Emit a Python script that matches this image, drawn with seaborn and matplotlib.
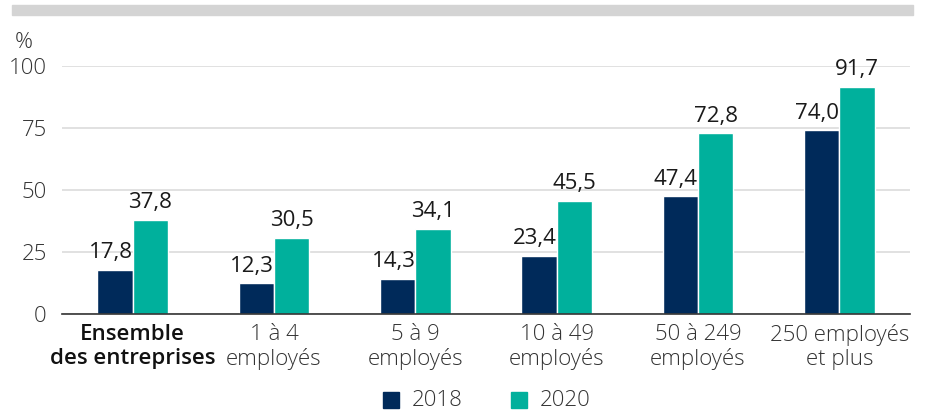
import matplotlib
matplotlib.use("Agg")
import matplotlib.pyplot as plt
import seaborn as sns
import pandas as pd
from matplotlib.patches import Rectangle

categories = ["Ensemble\ndes entreprises", "1 à 4\nemployés", "5 à 9\nemployés",
              "10 à 49\nemployés", "50 à 249\nemployés", "250 employés\net plus"]
v2018 = [17.8, 12.3, 14.3, 23.4, 47.4, 74.0]
v2020 = [37.8, 30.5, 34.1, 45.5, 72.8, 91.7]
years = ["2018", "2020"]
yticks = [0, 25, 50, 75, 100]

sns.set_theme(style="white")
plt.rcParams['font.family'] = ['Open Sans', 'DejaVu Sans']
plt.rcParams['font.weight'] = 300

df = pd.DataFrame({
    "cat": categories * 2,
    "val": v2018 + v2020,
    "year": [years[0]] * len(categories) + [years[1]] * len(categories),
})

colors = {"2018": "#002a5a", "2020": "#00b09c"}
textc = "#333333"
FS = 16

fig = plt.figure(figsize=(9.25, 4.11), dpi=100)
ax = fig.add_axes([62/925, 1-314/411, (910-62)/925, (314-66)/411])

sns.barplot(data=df, x="cat", y="val", hue="year", palette=colors, width=0.5,
            ax=ax, legend=False, saturation=1, zorder=3)

ax.set_ylim(0, 100)
ax.set_xlim(-0.5, len(categories) - 0.5)
ax.set_yticks(yticks)
ax.set_yticklabels([str(t) for t in yticks], fontsize=FS, color=textc)
ax.yaxis.grid(True, color="#dcdcdc", linewidth=1.2, zorder=0)
ax.set_axisbelow(True)
for s in ["top", "right", "left"]:
    ax.spines[s].set_visible(False)
ax.spines["bottom"].set_color("#333333")
ax.spines["bottom"].set_linewidth(1.2)
ax.spines["bottom"].set_zorder(5)
ax.tick_params(axis="y", length=0, pad=11)
ax.set_xlabel("")
ax.set_ylabel("")

# group separator ticks
ax.set_xticks([i - 0.5 for i in range(len(categories) + 1)], minor=True)
ax.tick_params(axis="x", which="minor", length=8, width=1.2, color="#333333", direction="out")
ax.set_xticks(range(len(categories)))
ax.set_xticklabels(categories, fontsize=FS, color=textc, linespacing=1.2)
ax.tick_params(axis="x", which="major", length=0, pad=7)
lbl0 = ax.get_xticklabels()[0]
lbl0.set_fontweight(600)
lbl0.set_color("#111111")

def fmt(v):
    return f"{v:.1f}".replace(".", ",")

# 2018 labels: right-aligned to bar's right edge; 2020 labels: centered
for i, cont in enumerate(ax.containers):
    for rect, v in zip(cont.patches, cont.datavalues):
        if i == 0:
            x = rect.get_x() + rect.get_width()
            ha = "right"
        else:
            x = rect.get_x() + rect.get_width() / 2
            ha = "center"
        ax.annotate(fmt(v), xy=(x, rect.get_height()), xytext=(0, 5),
                    textcoords="offset points", ha=ha, va="bottom",
                    fontsize=FS, fontweight="normal", color="#1a1a1a",
                    annotation_clip=False, zorder=6)

# % label
fig.text(15/925, 1-42/411, "%", fontsize=FS, color=textc, va="center", ha="left")

# top gray bar
fig.patches.append(Rectangle((12/925, 1-15/411), (913-12)/925, 10/411,
                             transform=fig.transFigure, color="#d4d4d4", zorder=0))

# legend
for x, yr in [(383, "2018"), (511, "2020")]:
    fig.patches.append(Rectangle((x/925, 1-408/411), 16/925, 16/411,
                                 transform=fig.transFigure, color=colors[yr]))
    fig.text((x+29)/925, 1-400/411, yr, fontsize=FS, color=textc, va="center", ha="left")

fig.savefig("out.png", dpi=100)
